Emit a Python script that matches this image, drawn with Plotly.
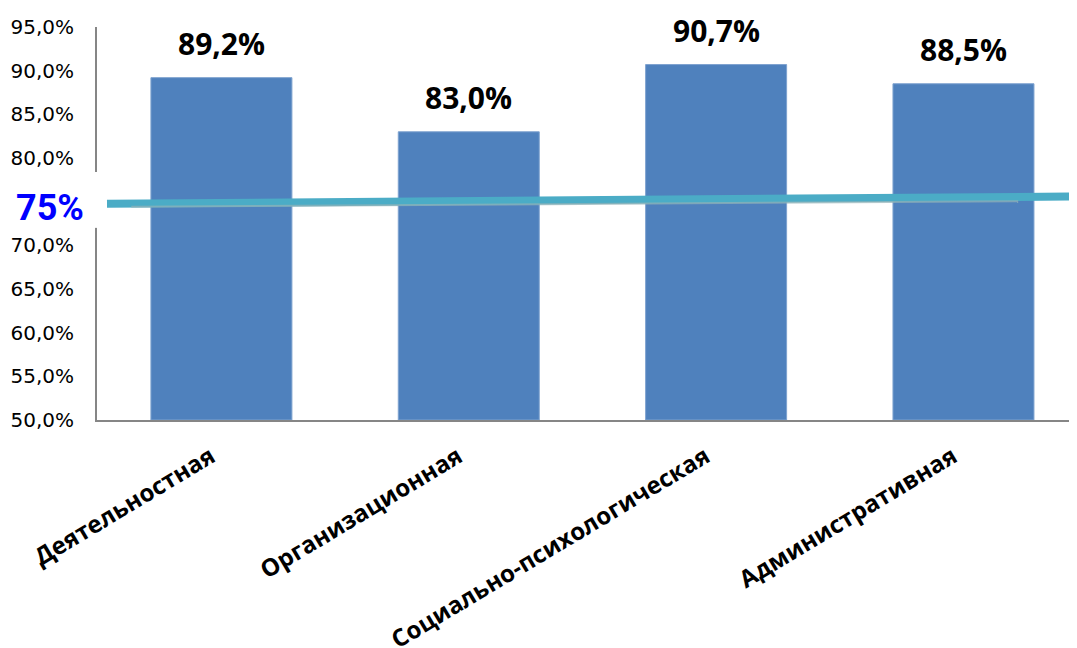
import plotly.graph_objects as go

categories = ["Деятельностная", "Организационная", "Социально-психологическая", "Административная"]
values = [89.2, 83.0, 90.7, 88.5]
value_labels = ["89,2%", "83,0%", "90,7%", "88,5%"]
y_tickvals = [50, 55, 60, 65, 70, 80, 85, 90, 95]
y_ticktext = ["50,0%", "55,0%", "60,0%", "65,0%", "70,0%", "80,0%", "85,0%", "90,0%", "95,0%"]
threshold_label = "75%"
threshold_value = 75
threshold_ends = [74.76, 75.6]

fig = go.Figure()
fig.add_trace(go.Bar(
    x=categories, y=[v - 50 for v in values], base=50,
    width=0.57,
    marker=dict(color="#4F81BD", line=dict(color="#7EA2CF", width=1)),
    hoverinfo="skip",
))

for c, v, t in zip(categories, values, value_labels):
    fig.add_annotation(x=c, y=v, text=t, showarrow=False, yanchor="bottom", yshift=12,
                       font=dict(family="Open Sans", size=30, color="black", weight="bold"))

# threshold line
fig.add_shape(type="line", xref="paper", yref="y", x0=0.0102, x1=1.0,
              y0=threshold_ends[0], y1=threshold_ends[1],
              line=dict(color="#4BACC6", width=8), layer="above")
fig.add_shape(type="line", xref="paper", yref="y", x0=0.035, x1=0.94,
              y0=threshold_ends[0] - 0.35, y1=threshold_ends[1] - 0.55,
              line=dict(color="#93B3B8", width=2), layer="above", opacity=0.7)
# white box behind threshold label covering axis
fig.add_shape(type="rect", xref="paper", yref="y", x0=-0.012, x1=0.004,
              y0=72.0, y1=78.4, fillcolor="white", line=dict(width=0), layer="above")
fig.add_annotation(xref="paper", yref="y", x=-0.0115, y=threshold_value - 0.75,
                   text=threshold_label, showarrow=False, xanchor="right", yanchor="middle",
                   font=dict(family="Roboto", size=36, color="#0000FF", weight="bold"))

fig.update_layout(
    width=1077, height=648,
    margin=dict(l=89, r=8, t=19, b=236),
    plot_bgcolor="white", paper_bgcolor="white",
    showlegend=False, bargap=0.43,
)
fig.update_yaxes(range=[50, 95], tickvals=y_tickvals, ticktext=y_ticktext, automargin=False,
                 showgrid=False, zeroline=False, showline=True, linecolor="#868686", linewidth=2,
                 ticks="", ticklabelstandoff=17,
                 tickfont=dict(family="DejaVu Sans", size=20, color="black"))
fig.update_xaxes(range=[-0.503, 3.459], showgrid=False, showline=True, linecolor="#868686",
                 linewidth=2, ticks="", tickangle=-31, ticklabelstandoff=5, automargin=False,
                 tickvals=categories, ticktext=[c + "\u00a0\u00a0" for c in categories],
                 tickfont=dict(family="Open Sans", size=24, color="black", weight="bold"))

fig.write_html("out.html")
